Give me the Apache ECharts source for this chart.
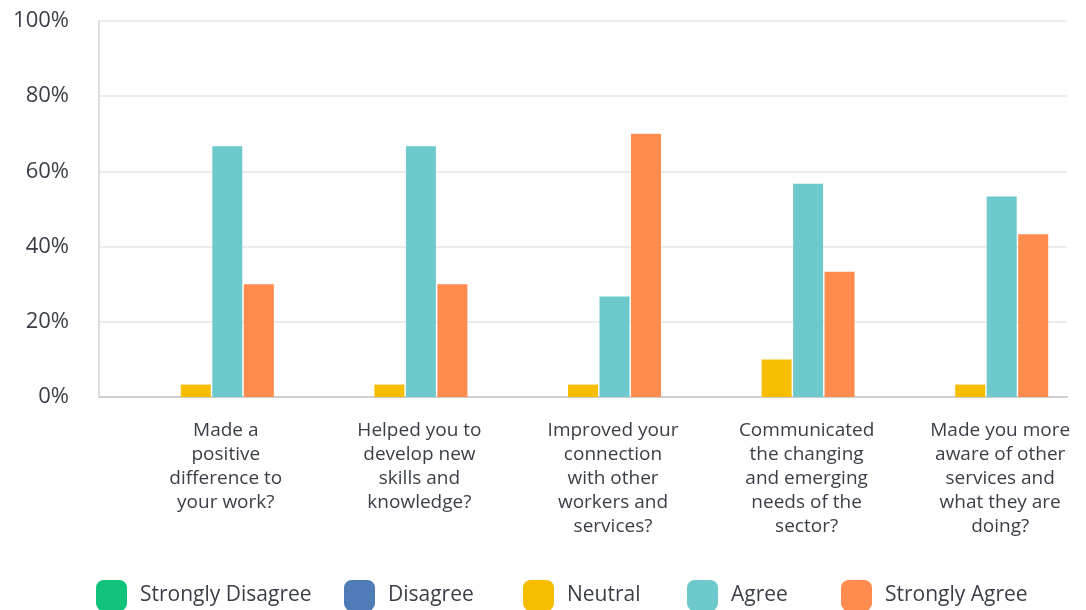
<!DOCTYPE html>
<html lang="en">
<head>
    <meta charset="UTF-8">
    <title>Survey responses</title>
    <script src="https://cdn.jsdelivr.net/npm/echarts@6/dist/echarts.min.js"></script>
    <style>
        body { margin: 0; background: #fff; }
        #main { width: 1086px; height: 610px; }
    </style>
</head>
<body>
<div id="main"></div>
<script type="text/javascript">
    // categories (questions)
    var questions = [
        'Made a\npositive\ndifference to\nyour work?',
        'Helped you to\ndevelop new\nskills and\nknowledge?',
        'Improved your\nconnection\nwith other\nworkers and\nservices?',
        'Communicated\nthe changing\nand emerging\nneeds of the\nsector?',
        'Made you more\naware of other\nservices and\nwhat they are\ndoing?'
    ];
    // percentages per response
    var stronglyDisagree = [0, 0, 0, 0, 0];
    var disagree = [0, 0, 0, 0, 0];
    var neutral = [3.3, 3.3, 3.3, 10, 3.3];
    var agree = [66.7, 66.7, 26.7, 56.7, 53.3];
    var stronglyAgree = [30, 30, 70, 33.3, 43.3];
    var yTicks = [0, 20, 40, 60, 80, 100];

    var names = ['Strongly Disagree', 'Disagree', 'Neutral', 'Agree', 'Strongly Agree'];
    var colors = ['#10c27a', '#4f7bb6', '#f7be00', '#6dc9cc', '#ff8b4f'];
    var values = [stronglyDisagree, disagree, neutral, agree, stronglyAgree];
    // where each legend entry starts (px from left)
    var legendLeft = [96, 344, 523, 687, 841];

    var font = 'Open Sans';
    var textColor = '#3a3f47';
    var myChart = echarts.init(document.getElementById('main'));

    var series = [];
    var legends = [];
    for (var i = 0; i < names.length; i++) {
        series.push({
            name: names[i],
            type: 'bar',
            data: values[i],
            barWidth: 30,
            barGap: '5%',
            itemStyle: { color: colors[i] }
        });
        legends.push({
            data: [names[i]],
            top: 580,
            left: legendLeft[i],
            padding: 0,
            itemWidth: 31,
            itemHeight: 31,
            icon: 'roundRect',
            textStyle: {
                fontFamily: font,
                fontSize: 21,
                color: textColor,
                padding: [2, 0, 0, 8]
            }
        });
    }

    var option = {
        color: colors,
        animation: false,
        grid: {
            left: 99,
            right: 19,
            top: 21,
            bottom: 213,
            containLabel: false
        },
        legend: legends,
        xAxis: {
            type: 'category',
            data: questions,
            axisTick: { show: false },
            axisLine: { lineStyle: { color: '#cfcfcf', width: 2 } },
            axisLabel: {
                interval: 0,
                margin: 22,
                padding: [0, 0, 0, 60],
                fontFamily: font,
                fontSize: 19,
                lineHeight: 24,
                color: textColor
            }
        },
        yAxis: {
            type: 'value',
            min: yTicks[0],
            max: yTicks[yTicks.length - 1],
            interval: 20,
            axisLine: { show: true, lineStyle: { color: '#dcdcdc', width: 2 } },
            axisTick: { show: false },
            splitLine: { lineStyle: { color: '#ececec', width: 2 } },
            axisLabel: {
                margin: 30,
                fontFamily: font,
                fontSize: 22,
                color: textColor,
                formatter: '{value}%'
            }
        },
        series: series
    };

    myChart.setOption(option);
</script>
</body>
</html>
